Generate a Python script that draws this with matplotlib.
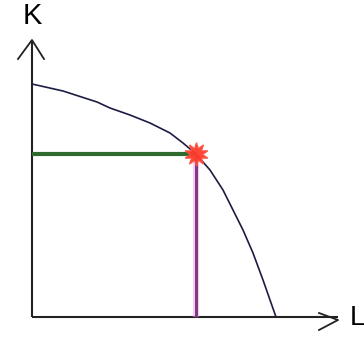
import matplotlib
matplotlib.use('Agg')
import matplotlib.pyplot as plt
import numpy as np

# production possibility curve (origin at the axes corner)
curve_L = [0, 31, 65, 78, 98, 118, 138, 151, 164, 178, 191, 201, 211, 221, 231, 244]
curve_K = [233, 226, 215, 209, 202, 194, 184, 174, 163, 147, 127, 107, 87, 64, 37, 0]

# chosen point
point_L = 164
point_K = 163

# axes
x_len = 306
y_len = 277
axis_labels = ['L', 'K']

fig = plt.figure(figsize=(3.64, 3.40), dpi=100)
ax = fig.add_axes([0, 0, 1, 1])
ax.set_xlim(-32, 332)
ax.set_ylim(-23, 317)
ax.axis('off')

# axis lines with open arrow heads
ax.plot([0, x_len], [0, 0], color='#222222', lw=1.5, solid_capstyle='butt')
ax.plot([0, 0], [0, y_len], color='#222222', lw=1.5, solid_capstyle='butt')
ax.plot([x_len - 19, x_len, x_len - 19], [4, -3, -13], color='#222222', lw=1.3)
ax.plot([-14, 0, 12], [-19 + y_len, y_len, -19 + y_len], color='#222222', lw=1.3)

# green and purple guide lines
ax.plot([0, point_L], [point_K, point_K], color='#2f6a2f', lw=3, solid_capstyle='butt')
ax.plot([point_L, point_L], [0, point_K], color='#f29cf2', lw=4.5, solid_capstyle='butt', alpha=0.5)
ax.plot([point_L, point_L], [0, point_K], color='#7b3d80', lw=2.2, solid_capstyle='butt')

# curve
ax.plot(curve_L, curve_K, color='#1c1c44', lw=1.2)

# the point
ax.plot([point_L], [point_K], marker=(10, 1, 0), markersize=17, color='#ff3b2a',
        markeredgecolor='#ff5040', alpha=0.95)

ax.text(0, y_len + 24, axis_labels[1], ha='center', va='center', fontsize=21,
        family='Liberation Sans')
ax.text(x_len + 12, -1, axis_labels[0], ha='left', va='center', fontsize=20,
        family='Liberation Sans')

fig.savefig('out.png', dpi=100, facecolor='white')
